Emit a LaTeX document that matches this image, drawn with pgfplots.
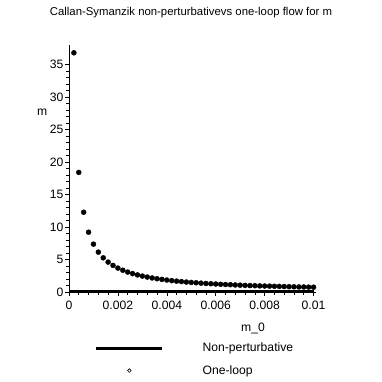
\documentclass[border=0pt]{standalone}
\usepackage{pgfplots}
\pgfplotsset{compat=1.18}
\usepackage{fontspec}
\setmainfont{Liberation Sans}
\begin{document}
\begin{tikzpicture}
\path[use as bounding box] (0,0) rectangle (382bp,382bp);
\begin{axis}[
  at={(69bp,90bp)}, anchor=origin,
  scale only axis, width=247bp, height=247bp,
  xmin=0, xmax=0.0101, ymin=0, ymax=38,
  enlargelimits=false,
  axis lines*=left,
  axis line style={line width=0.8pt},
  tick align=outside,
  major tick length=4bp, minor tick length=2.5bp,
  every tick/.style={black, line width=0.6pt},
  scaled x ticks=false,
  xtick={0,0.002,0.004,0.006,0.008,0.01},
  xticklabels={0,0.002,0.004,0.006,0.008,0.01},
  ytick={0,5,10,15,20,25,30,35},
  minor x tick num=4, minor y tick num=4,
  /pgf/number format/assume math mode=true,
  tick label style={font=\fontsize{12.2}{14}\selectfont},
  xticklabel style={yshift=-1bp},
  yticklabel style={xshift=2bp},
  title={Callan-Symanzik non-perturbativevs one-loop flow for m},
  title style={at={(rel axis cs:0.494,1.109)}, anchor=center, font=\fontsize{11.4}{13}\selectfont},
  xlabel={m\_0},
  xlabel style={at={(rel axis cs:0.745,-0.146)}, anchor=center, font=\fontsize{12.2}{14}\selectfont},
  ylabel={m},
  ylabel style={at={(rel axis cs:-0.109,0.729)}, anchor=center, rotate=-90, font=\fontsize{12.2}{14}\selectfont},
  clip=false,
  legend style={at={(rel axis cs:0.093,-0.19)}, anchor=north west, draw=none, fill=none,
    font=\fontsize{12.2}{14}\selectfont, row sep=8bp,
    /tikz/every odd column/.append style={column sep=37bp}},
  legend cell align=left,
]
\addplot[black, line width=2.5bp, legend image code/.code={\draw[black, line width=2.5bp] (0bp,0bp) -- (66bp,0bp);}]
  coordinates {(0,0.05) (0.01,0.05)};
\addlegendentry{Non-perturbative}
\addplot[only marks, mark=*, mark size=2.5bp, black, forget plot] coordinates {
(0.0002,36.8) (0.0004,18.4) (0.0006,12.27) (0.0008,9.2) (0.0010,7.36)
(0.0012,6.13) (0.0014,5.26) (0.0016,4.6) (0.0018,4.09) (0.0020,3.68)
(0.0022,3.35) (0.0024,3.07) (0.0026,2.83) (0.0028,2.63) (0.0030,2.45)
(0.0032,2.3) (0.0034,2.16) (0.0036,2.04) (0.0038,1.94) (0.0040,1.84)
(0.0042,1.75) (0.0044,1.67) (0.0046,1.6) (0.0048,1.53) (0.0050,1.47)
(0.0052,1.42) (0.0054,1.36) (0.0056,1.31) (0.0058,1.27) (0.0060,1.23)
(0.0062,1.19) (0.0064,1.15) (0.0066,1.12) (0.0068,1.08) (0.0070,1.05)
(0.0072,1.02) (0.0074,0.99) (0.0076,0.97) (0.0078,0.94) (0.0080,0.92)
(0.0082,0.9) (0.0084,0.88) (0.0086,0.86) (0.0088,0.84) (0.0090,0.82)
(0.0092,0.8) (0.0094,0.78) (0.0096,0.77) (0.0098,0.75) (0.0100,0.74)
};
\addlegendimage{legend image code/.code={\draw[black, line width=0.6bp] (33bp,0bp) +(0,-1.8bp) -- +(1.8bp,0) -- +(0,1.8bp) -- +(-1.8bp,0) -- cycle;}}
\addlegendentry{One-loop}
\end{axis}
\end{tikzpicture}
\end{document}
